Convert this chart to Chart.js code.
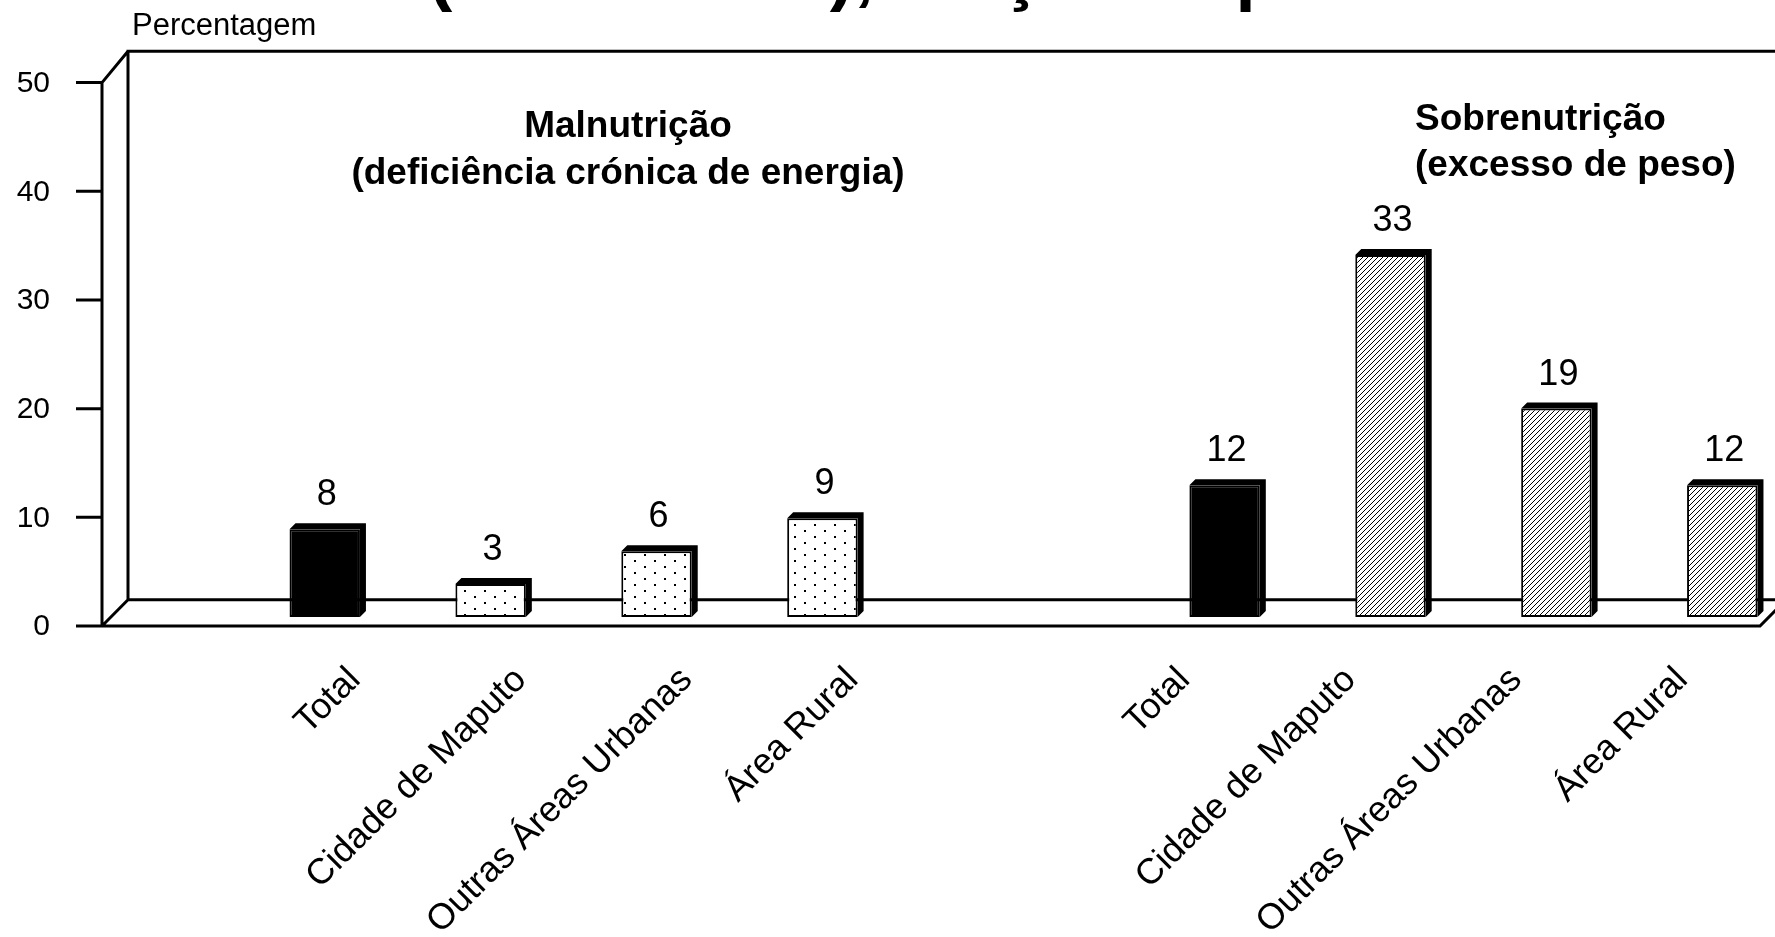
<!DOCTYPE html>
<html lang="pt">
<head>
<meta charset="utf-8">
<title>Malnutrição e sobrenutrição</title>
<script src="https://cdn.jsdelivr.net/npm/chart.js@4.4.1/dist/chart.umd.min.js"></script>
<style>
  html, body { margin: 0; padding: 0; background: #fff; }
  #wrap { width: 1775px; height: 937px; }
</style>
</head>
<body>
<div id="wrap"><canvas id="nutriChart" width="1775" height="937"></canvas></div>
<script>
// dados
const categorias = ['Total', 'Cidade de Maputo', 'Outras Áreas Urbanas', 'Área Rural'];
const malnutricao = [8, 3, 6, 9];
const sobrenutricao = [12, 33, 19, 12];
const yTicks = [0, 10, 20, 30, 40, 50];
const tituloGrupo1 = ['Malnutrição', '(deficiência crónica de energia)'];
const tituloGrupo2 = ['Sobrenutrição', '(excesso de peso)'];
const tituloEixo = 'Percentagem';
const tituloCortado = '(15-49 anos), Moçambique';

const FONT = "'Liberation Sans', Arial, sans-serif";

function padraoPontos() {
    const c = document.createElement('canvas');
    c.width = 20; c.height = 12;
    const g = c.getContext('2d');
    g.fillStyle = '#fff'; g.fillRect(0, 0, 20, 12);
    g.fillStyle = '#000';
    g.fillRect(4, 2, 2, 2);
    g.fillRect(14, 8, 2, 2);
    return g.createPattern(c, 'repeat');
}

function padraoRiscas() {
    const s = 5;
    const c = document.createElement('canvas');
    c.width = s; c.height = s;
    const g = c.getContext('2d');
    g.fillStyle = '#fff'; g.fillRect(0, 0, s, s);
    g.strokeStyle = '#000'; g.lineWidth = 1;
    g.beginPath();
    g.moveTo(0, s); g.lineTo(s, 0);
    g.moveTo(-1, 1); g.lineTo(1, -1);
    g.moveTo(s - 1, s + 1); g.lineTo(s + 1, s - 1);
    g.stroke();
    return g.createPattern(c, 'repeat');
}

const pontos = padraoPontos();
const riscas = padraoRiscas();

// 4 barras + uma categoria vazia + 4 barras
const labels = [...categorias, '', ...categorias];
const vazio = [null, null, null, null, null];
const dadosMal = [...malnutricao, ...vazio];
const dadosSob = [...vazio, ...sobrenutricao];
const corMal = ['#000', pontos, pontos, pontos, '#fff', '#fff', '#fff', '#fff', '#fff'];
const corSob = ['#fff', '#fff', '#fff', '#fff', '#fff', '#000', riscas, riscas, riscas];

// moldura em 3D, eixo vertical e textos
const moldura = {
    id: 'moldura',
    beforeDatasetsDraw(chart) {
        const { ctx } = chart;
        const y = chart.scales.y;
        const front = v => y.getPixelForValue(v) + 9 + 0.102 * v;
        const back = v => y.getPixelForValue(v) - 17.3;
        const fx = 102, bx = 128, W = chart.width;

        ctx.save();
        ctx.strokeStyle = '#000';
        ctx.lineWidth = 3;
        ctx.beginPath();
        ctx.moveTo(W + 10, back(50)); ctx.lineTo(bx, back(50));
        ctx.lineTo(bx, back(0)); ctx.lineTo(W + 10, back(0));
        ctx.moveTo(fx, front(50)); ctx.lineTo(bx, back(50));
        ctx.moveTo(fx, front(0)); ctx.lineTo(bx, back(0));
        ctx.moveTo(fx, front(50)); ctx.lineTo(fx, front(0));
        ctx.moveTo(76, front(0)); ctx.lineTo(1760, front(0)); ctx.lineTo(1786, back(0));
        yTicks.forEach(v => { ctx.moveTo(76, front(v)); ctx.lineTo(fx, front(v)); });
        ctx.stroke();

        ctx.fillStyle = '#000';
        ctx.font = `30px ${FONT}`;
        ctx.textAlign = 'right';
        ctx.textBaseline = 'middle';
        yTicks.forEach(v => ctx.fillText(String(v), 50, front(v) + 1));

        ctx.textBaseline = 'alphabetic';
        ctx.textAlign = 'left';
        ctx.font = `31px ${FONT}`;
        ctx.fillText(tituloEixo, 132, 35);

        ctx.font = `bold 73px ${FONT}`;
        ctx.fillText(tituloCortado, 428, -3);

        ctx.font = `bold 37px ${FONT}`;
        ctx.textAlign = 'center';
        ctx.fillText(tituloGrupo1[0], 628, 137);
        ctx.fillText(tituloGrupo1[1], 628, 184);
        ctx.textAlign = 'left';
        ctx.fillText(tituloGrupo2[0], 1415, 130);
        ctx.fillText(tituloGrupo2[1], 1415, 176);
        ctx.restore();
    },
    afterDatasetsDraw(chart) {
        const { ctx } = chart;
        const d = 6;
        ctx.save();
        chart.data.datasets.forEach((ds, i) => {
            chart.getDatasetMeta(i).data.forEach((bar, j) => {
                const v = ds.data[j];
                if (v === null) return;
                const l = bar.x - bar.width / 2, r = bar.x + bar.width / 2;
                const t = bar.y, b = bar.base;
                ctx.fillStyle = '#000';
                ctx.beginPath();
                ctx.moveTo(l, t);
                ctx.lineTo(l + d, t - d);
                ctx.lineTo(r + d, t - d);
                ctx.lineTo(r + d, b - d);
                ctx.lineTo(r, b);
                ctx.lineTo(r, t);
                ctx.closePath();
                ctx.fill();

                ctx.font = `36px ${FONT}`;
                ctx.textAlign = 'center';
                ctx.textBaseline = 'alphabetic';
                ctx.fillText(String(v), bar.x + 2, t - 24);
            });
        });
        ctx.restore();
    }
};

const ctx = document.getElementById('nutriChart').getContext('2d');
new Chart(ctx, {
    type: 'bar',
    data: {
        labels: labels,
        datasets: [
            {
                label: 'Malnutrição',
                data: dadosMal,
                backgroundColor: corMal,
                borderColor: '#000',
                borderWidth: 2,
                borderSkipped: false,
            },
            {
                label: 'Sobrenutrição',
                data: dadosSob,
                backgroundColor: corSob,
                borderColor: '#000',
                borderWidth: 2,
                borderSkipped: false,
            },
        ],
    },
    options: {
        responsive: false,
        animation: false,
        devicePixelRatio: 1,
        categoryPercentage: 0.849,
        barPercentage: 1.0,
        layout: { padding: { left: 277, right: 5, top: 68.5, bottom: 0 } },
        plugins: {
            legend: { display: false },
            tooltip: { enabled: false },
        },
        scales: {
            x: {
                grid: { display: false },
                border: { display: false },
                ticks: {
                    autoSkip: false,
                    maxRotation: 45,
                    minRotation: 45,
                    color: '#000',
                    padding: 34,
                    labelOffset: -5,
                    font: { family: FONT, size: 36 },
                },
                afterFit: s => { s.height = 320; },
            },
            y: { display: false, min: 0, max: 50 },
        },
    },
    plugins: [moldura],
});
</script>
</body>
</html>
